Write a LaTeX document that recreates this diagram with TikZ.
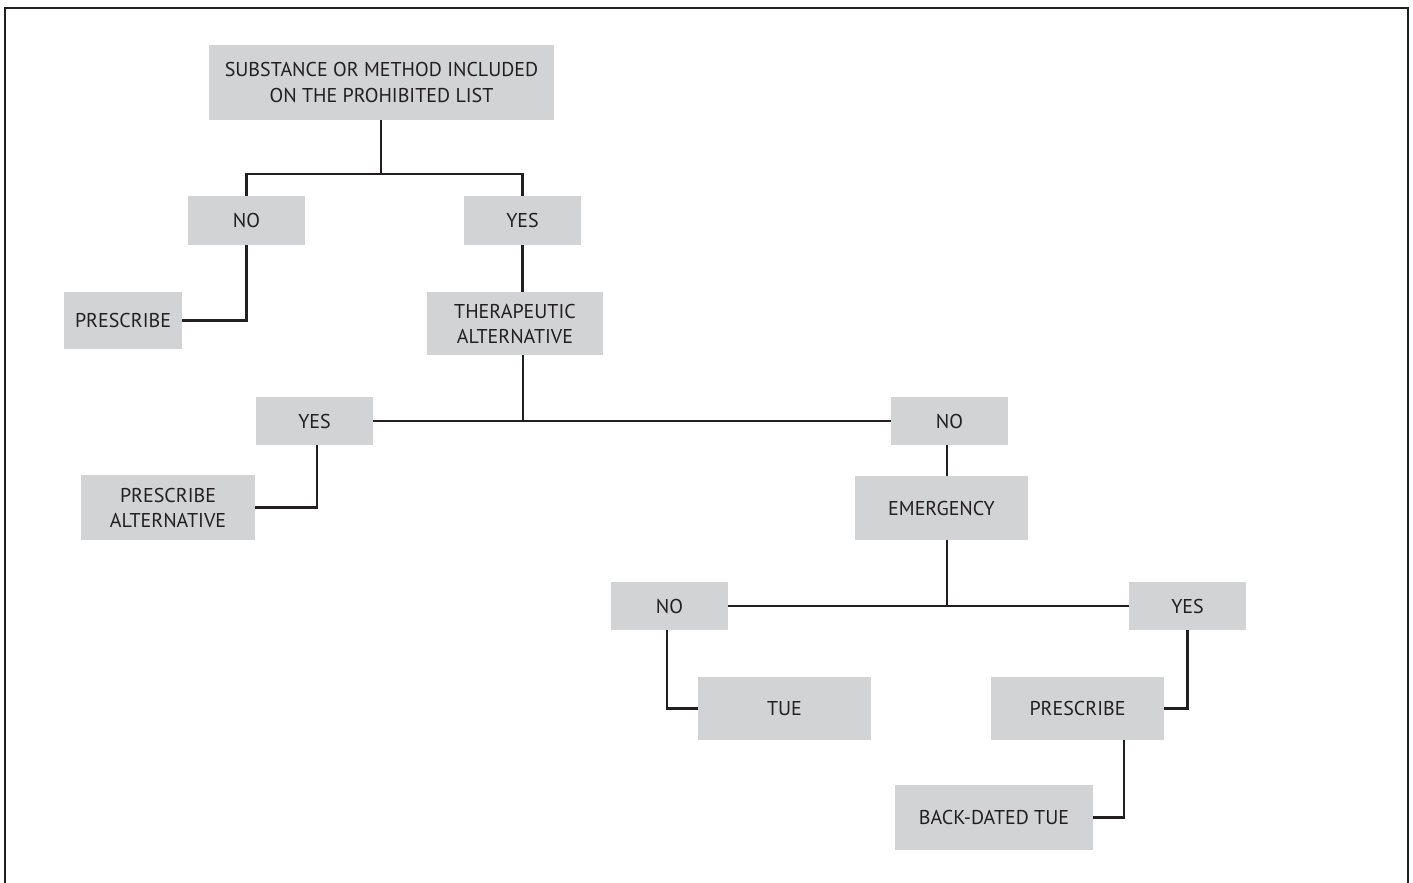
\documentclass[tikz,border=0pt]{standalone}
\usepackage{fontspec}
\setmainfont{PT Sans}
\definecolor{boxgray}{RGB}{209,211,212}
\definecolor{ink}{RGB}{35,31,32}
\begin{document}
\begin{tikzpicture}[x=1pt,y=-1pt,
  box/.style={fill=boxgray,inner sep=0pt,align=center,font=\fontsize{20}{25}\selectfont,text=ink},
  conn/.style={draw=ink,line width=2.2pt},
  frame/.style={draw=ink,line width=2.6pt}]
\useasboundingbox (0,0) rectangle (1413,883);
\draw[frame] (5,890) -- (5,8) -- (1408,8) -- (1408,890);
% nodes
\node[box,minimum width=345,minimum height=75] (top) at (381.5,82.5) {SUBSTANCE OR METHOD INCLUDED\\ON THE PROHIBITED LIST};
\node[box,minimum width=117,minimum height=49] (no1) at (246.5,220.5) {NO};
\node[box,minimum width=117,minimum height=49] (yes1) at (522.5,220.5) {YES};
\node[box,minimum width=118,minimum height=57] (pres1) at (123,320.5) {PRESCRIBE};
\node[box,minimum width=176,minimum height=63] (ther) at (515,323.5) {THERAPEUTIC\\ALTERNATIVE};
\node[box,minimum width=117,minimum height=48] (yes2) at (314.5,421) {YES};
\node[box,minimum width=117,minimum height=48] (no2) at (949.5,421) {NO};
\node[box,minimum width=174,minimum height=65] (presalt) at (168,507.5) {PRESCRIBE\\ALTERNATIVE};
\node[box,minimum width=173,minimum height=64] (emer) at (941.5,508) {EMERGENCY};
\node[box,minimum width=117,minimum height=48] (no3) at (669.5,606) {NO};
\node[box,minimum width=117,minimum height=48] (yes3) at (1187.5,606) {YES};
\node[box,minimum width=173,minimum height=63] (tue) at (784.5,708.5) {TUE};
\node[box,minimum width=173,minimum height=63] (pres3) at (1077.5,708.5) {PRESCRIBE};
\node[box,minimum width=198,minimum height=65] (back) at (994,817.5) {BACK-DATED TUE};
% connectors
\coordinate (j1) at (381,174);
\draw[conn] (top.south -| j1) -- (j1);
\draw[conn] (no1.north) -- (no1.north |- j1) -- (yes1.north |- j1) -- (yes1.north);
\draw[conn] (no1.south) |- (pres1.east);
\draw[conn] (yes1.south) -- (yes1.south |- ther.north);
\coordinate (j2) at (523,421);
\draw[conn] (ther.south -| j2) -- (j2);
\draw[conn] (yes2.east) -- (no2.west);
\draw[conn] (yes2.south -| 317,0) |- (presalt.east);
\draw[conn] (no2.south -| 947,0) -- (emer.north -| 947,0);
\coordinate (j3) at (947,607);
\draw[conn] (emer.south -| j3) -- (j3);
\draw[conn] (no3.east) -- (yes3.west);
\draw[conn] (no3.south -| 667,0) |- (tue.west);
\draw[conn] (yes3.south) |- (pres3.east);
\draw[conn] (pres3.south -| 1124,0) |- (back.east);
\end{tikzpicture}
\end{document}
